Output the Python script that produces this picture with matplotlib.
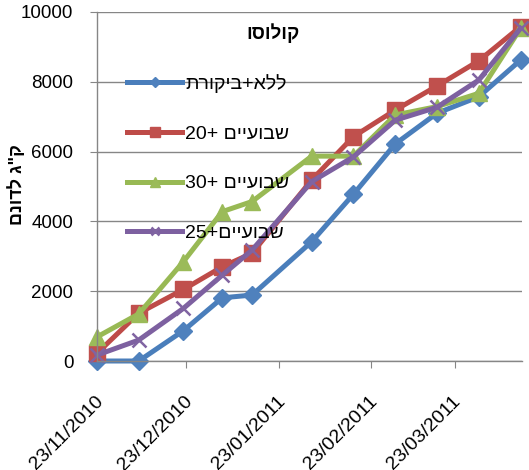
import pandas as pd
import matplotlib
matplotlib.use('Agg')
import matplotlib.pyplot as plt
import matplotlib.transforms as mtransforms

plt.rcParams['font.family'] = ['Liberation Sans', 'DejaVu Sans']

# sampling dates
dates = pd.to_datetime(['2010-11-23', '2010-12-07', '2010-12-22', '2011-01-04', '2011-01-14',
                        '2011-02-03', '2011-02-17', '2011-03-03', '2011-03-17', '2011-03-31',
                        '2011-04-14'])

# kg per dunam, one list per treatment
control = [0, 0, 870, 1810, 1890, 3420, 4780, 6220, 7100, 7570, 8620]
weeks20 = [220, 1370, 2050, 2700, 3090, 5190, 6430, 7190, 7880, 8600, 9580]
weeks30 = [690, 1350, 2850, 4280, 4570, 5870, 5870, 7050, 7290, 7670, 9530]
weeks25 = [170, 600, 1510, 2460, 3180, 5140, 5850, 6900, 7270, 8050, 9530]

# hebrew labels, written in visual (left to right) order since matplotlib has no bidi
labels = ['תרוקיב+אלל', '20+ םייעובש', '30+ םייעובש', '25+םייעובש']
title = 'וסולוק'
ylabel = 'םנודל ג"ק'

tick_dates = pd.to_datetime(['2010-11-23', '2010-12-23', '2011-01-23', '2011-02-23', '2011-03-23'])
tick_labels = ['23/11/2010', '23/12/2010', '23/01/2011', '23/02/2011', '23/03/2011']

W, H = 529, 470
fig = plt.figure(figsize=(W / 100, H / 100), dpi=100)
ax = fig.add_axes([97 / W, 1 - 361 / H, (522 - 97) / W, (361 - 12) / H])

grey = '#868686'
styles = [
    (control, '#4A7EBB', '#4F81BD', 'D', 9),
    (weeks20, '#BE4B48', '#C0504D', 's', 11),
    (weeks30, '#98B954', '#9BBB59', '^', 12),
    (weeks25, '#7D60A0', '#8064A2', 'x', 10),
]
for (vals, lc, mc, mk, ms), lab in zip(styles, labels):
    ax.plot(dates, vals, color=lc, lw=3.6, marker=mk, ms=ms, mfc=mc, mec=mc,
            mew=1.8 if mk == 'x' else 1, label=lab, clip_on=False)

ax.set_ylim(0, 10000)
ax.set_xlim(dates[0], dates[-1] + pd.Timedelta(hours=12))
ax.set_yticks(range(0, 10001, 2000))
ax.set_xticks(tick_dates)
ax.set_xticklabels(tick_labels)

ax.grid(axis='y', color=grey, lw=1)
ax.set_axisbelow(True)
for s in ['top', 'right']:
    ax.spines[s].set_visible(False)
for s in ['left', 'bottom']:
    ax.spines[s].set_color(grey)
    ax.spines[s].set_linewidth(1)

ax.tick_params(axis='y', length=5, color=grey, pad=12, labelsize=13.5)
ax.tick_params(axis='x', length=5, color=grey, pad=22, labelsize=14)
offset = mtransforms.ScaledTranslation(2.5 / 72, 0, fig.dpi_scale_trans)
for t in ax.get_xticklabels():
    t.set_rotation(45)
    t.set_ha('right')
    t.set_va('center')
    t.set_rotation_mode('anchor')
    t.set_transform(t.get_transform() + offset)

fig.text(17 / W, 1 - 185 / H, ylabel, rotation=90, ha='center', va='center',
         fontsize=13, fontweight='bold')
fig.text(273 / W, 1 - 33 / H, title, ha='center', va='center',
         fontsize=13.5, fontweight='bold')

ax.legend(loc='upper left', bbox_to_anchor=(127 / W, 1 - 74 / H),
          bbox_transform=fig.transFigure, frameon=False, fontsize=14,
          handlelength=2.85, handletextpad=0.15, labelspacing=1.65,
          borderpad=0, borderaxespad=0, numpoints=1, markerscale=0.6)

fig.savefig('out.png', dpi=100)
